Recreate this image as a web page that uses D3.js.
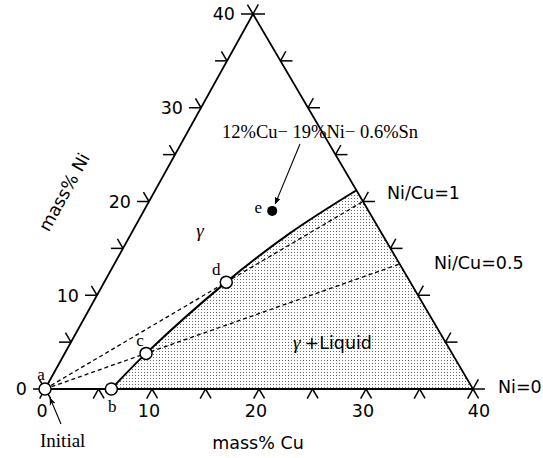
<!DOCTYPE html>
<html>
<head>
<meta charset="utf-8">
<script src="https://cdn.jsdelivr.net/npm/d3@7"></script>
<style>
  html, body { margin: 0; padding: 0; background: #fff; }
  svg { display: block; }
  .sans { font-family: "DejaVu Sans", sans-serif; }
  .serif { font-family: "Liberation Serif", "Times New Roman", serif; }
</style>
</head>
<body>
<svg id="chart" width="543" height="458"></svg>
<script>
// Axis ticks (mass %) along each edge of the Cu–Ni section
const edgeTicks = [0, 5, 10, 15, 20, 25, 30, 35, 40];
const tickLabels = [0, 10, 20, 30, 40];

// Solidus boundary between γ and γ+Liquid (mass% Cu, mass% Ni)
const boundaryCu = [6.2, 7.6, 11.4, 14.8, 18.8];
const boundaryNi = [0.0, 3.8, 11.4, 16.6, 21.2];

// Constant Ni/Cu ratio lines from the initial composition
const ratioValues = [1, 0.5];
const ratioLabels = ["Ni/Cu=1", "Ni/Cu=0.5"];

// Marked compositions
const pointNames = ["a", "b", "c", "d"];
const pointCu = [0, 6.2, 7.6, 11.4];
const pointNi = [0, 0, 3.8, 11.4];

// Alloy composition e
const alloyName = "e";
const alloyCu = 12;
const alloyNi = 19;
const alloyText = "12%Cu\u2212 19%Ni\u2212 0.6%Sn";

const svg = d3.select("#chart");

// Section frame: Cu along the base, Ni up the left edge
const xCu = d3.scaleLinear().domain([0, 40]).range([45, 473]);
const yNi = d3.scaleLinear().domain([0, 40]).range([389, 14]);
const skewNi = d3.scaleLinear().domain([0, 40]).range([0, 253 - 45]);

const px = (cu, ni) => xCu(cu) + skewNi(ni);
const py = (cu, ni) => yNi(ni);
const P = (cu, ni) => [px(cu, ni), py(cu, ni)];

// Unit directions of the two slanted edges, in screen space
const o = P(0, 0), apex = P(0, 40), right = P(40, 0);
function unit(a, b) {
  const dx = b[0] - a[0], dy = b[1] - a[1], l = Math.hypot(dx, dy);
  return [dx / l, dy / l];
}
const leftDir = unit(o, apex);     // constant Cu direction
const rightDir = unit(right, apex); // constant (Cu+Ni) direction

// Dotted fill for the two-phase region
const defs = svg.append("defs");
const pat = defs.append("pattern")
  .attr("id", "stipple")
  .attr("patternUnits", "userSpaceOnUse")
  .attr("width", 3).attr("height", 3);
pat.append("rect").attr("x", 0).attr("y", 0).attr("width", 1).attr("height", 1)
  .attr("fill", "#6a6a6a");

defs.append("marker")
  .attr("id", "arrowFill")
  .attr("viewBox", "0 0 10 10")
  .attr("refX", 9).attr("refY", 5)
  .attr("markerWidth", 7).attr("markerHeight", 7)
  .attr("markerUnits", "userSpaceOnUse")
  .attr("orient", "auto")
  .append("path").attr("d", "M0,1 L10,5 L0,9 Z").attr("fill", "#000");

defs.append("marker")
  .attr("id", "arrowThin")
  .attr("viewBox", "0 0 10 10")
  .attr("refX", 9).attr("refY", 5)
  .attr("markerWidth", 8).attr("markerHeight", 8)
  .attr("markerUnits", "userSpaceOnUse")
  .attr("orient", "auto")
  .append("path").attr("d", "M0,1 L10,5 L0,9 L3,5 Z").attr("fill", "#000");

// Shaded γ+Liquid region
const bPts = boundaryCu.map((c, i) => P(c, boundaryNi[i]));
const areaLine = d3.line().curve(d3.curveCatmullRom.alpha(0.5));
const boundaryPath = areaLine(bPts);
const regionPath = boundaryPath
  + "L" + P(40, 0).join(",")
  + "L" + P(boundaryCu[0], 0).join(",") + "Z";
svg.append("path").attr("d", regionPath).attr("fill", "url(#stipple)").attr("stroke", "none");

// Ratio lines (dashed)
ratioValues.forEach((r) => {
  const cuEnd = 40 / (1 + r), niEnd = r * cuEnd;
  svg.append("line")
    .attr("x1", px(0, 0)).attr("y1", py(0, 0))
    .attr("x2", px(cuEnd, niEnd)).attr("y2", py(cuEnd, niEnd))
    .attr("stroke", "#000").attr("stroke-width", 1.3)
    .attr("stroke-dasharray", "4,3");
});

// Triangle frame
svg.append("path")
  .attr("d", d3.line()([o, apex, right, o]) + "Z")
  .attr("fill", "none").attr("stroke", "#000").attr("stroke-width", 1.8)
  .attr("stroke-linejoin", "miter");

// Solidus boundary
svg.append("path").attr("d", boundaryPath)
  .attr("fill", "none").attr("stroke", "#000").attr("stroke-width", 2);

// Edge ticks
const tickG = svg.append("g").attr("stroke", "#000").attr("stroke-width", 1.5);
const LH = 12, LD = 11;
edgeTicks.forEach((v) => {
  // left edge (Ni axis)
  let p = P(0, v);
  tickG.append("line").attr("x1", p[0]).attr("y1", p[1]).attr("x2", p[0] - LH).attr("y2", p[1]);
  tickG.append("line").attr("x1", p[0]).attr("y1", p[1])
    .attr("x2", p[0] + LD * rightDir[0]).attr("y2", p[1] + LD * rightDir[1]);
  // base (Cu axis)
  p = P(v, 0);
  tickG.append("line").attr("x1", p[0]).attr("y1", p[1])
    .attr("x2", p[0] - LD * leftDir[0]).attr("y2", p[1] - LD * leftDir[1]);
  tickG.append("line").attr("x1", p[0]).attr("y1", p[1])
    .attr("x2", p[0] - LD * rightDir[0]).attr("y2", p[1] - LD * rightDir[1]);
  // right edge
  p = P(40 - v, v);
  tickG.append("line").attr("x1", p[0]).attr("y1", p[1]).attr("x2", p[0] + LH).attr("y2", p[1]);
  tickG.append("line").attr("x1", p[0]).attr("y1", p[1])
    .attr("x2", p[0] + LD * leftDir[0]).attr("y2", p[1] + LD * leftDir[1]);
});

// Tick labels
const labelG = svg.append("g").attr("class", "sans").attr("font-size", 17.5).attr("fill", "#000");
tickLabels.forEach((v) => {
  const pl = P(0, v);
  labelG.append("text").attr("x", pl[0] - 18).attr("y", pl[1]).attr("dy", "0.36em")
    .attr("text-anchor", "end").text(v);
  const pb = P(v, 0);
  labelG.append("text").attr("x", pb[0] + (v === 40 ? 6 : -3)).attr("y", pb[1] + 22).attr("dy", "0.36em")
    .attr("text-anchor", "middle").text(v);
});

// Axis titles
const leftAngle = Math.atan2(leftDir[1], leftDir[0]) * 180 / Math.PI;
svg.append("text").attr("class", "sans").attr("font-size", 17.5)
  .attr("transform", `translate(64,192) rotate(${leftAngle})`)
  .attr("text-anchor", "middle").attr("dy", "0.36em").text("mass% Ni");
svg.append("text").attr("class", "sans").attr("font-size", 17.5)
  .attr("x", xCu(20) - 1).attr("y", 443).attr("dy", "0.36em")
  .attr("text-anchor", "middle").text("mass% Cu");

// Ratio line labels and Ni=0
const ratioLabelPos = [[387, 193], [434, 263]];
ratioLabels.forEach((t, i) => {
  svg.append("text").attr("class", "sans").attr("font-size", 17.5)
    .attr("x", ratioLabelPos[i][0]).attr("y", ratioLabelPos[i][1]).attr("dy", "0.36em").text(t);
});
svg.append("text").attr("class", "sans").attr("font-size", 17.5)
  .attr("x", 498).attr("y", py(0, 0) - 2).attr("dy", "0.36em").text("Ni=0");

// Phase labels
svg.append("text").attr("class", "serif").attr("font-size", 19).attr("font-style", "italic")
  .attr("x", 200).attr("y", 231).attr("dy", "0.3em").attr("text-anchor", "middle").text("\u03b3");
const gl = svg.append("text").attr("x", 293).attr("y", 343).attr("dy", "0.36em");
gl.append("tspan").attr("class", "serif").attr("font-style", "italic").attr("font-size", 19).text("\u03b3");
gl.append("tspan").attr("class", "sans").attr("font-size", 17.5).attr("dx", 4).text("+Liquid");

// Marked compositions (open circles)
pointNames.forEach((n, i) => {
  svg.append("circle").attr("cx", px(pointCu[i], pointNi[i])).attr("cy", py(pointCu[i], pointNi[i]))
    .attr("r", 6).attr("fill", "#fff").attr("stroke", "#000").attr("stroke-width", 1.5);
});
const pointLabelOffset = [[-4, -14], [1, 18], [-6, -12], [-10, -12]];
pointNames.forEach((n, i) => {
  svg.append("text").attr("class", "serif").attr("font-size", 17)
    .attr("x", px(pointCu[i], pointNi[i]) + pointLabelOffset[i][0])
    .attr("y", py(pointCu[i], pointNi[i]) + pointLabelOffset[i][1])
    .attr("dy", "0.3em").attr("text-anchor", "middle").text(n);
});

// Alloy e
const ex = px(alloyCu, alloyNi), ey = py(alloyCu, alloyNi);
svg.append("circle").attr("cx", ex).attr("cy", ey).attr("r", 5).attr("fill", "#000");
svg.append("text").attr("class", "serif").attr("font-size", 17)
  .attr("x", ex - 14).attr("y", ey - 3).attr("dy", "0.3em").attr("text-anchor", "middle").text(alloyName);
svg.append("text").attr("class", "serif").attr("font-size", 18.5)
  .attr("x", 222).attr("y", 132).attr("dy", "0.35em").text(alloyText);
svg.append("line").attr("x1", 300).attr("y1", 144).attr("x2", ex + 3).attr("y2", ey - 7)
  .attr("stroke", "#000").attr("stroke-width", 1.1).attr("marker-end", "url(#arrowFill)");

// Initial composition pointer
svg.append("line").attr("x1", 61).attr("y1", 424).attr("x2", o[0] + 5).attr("y2", o[1] + 9)
  .attr("stroke", "#000").attr("stroke-width", 1.1).attr("marker-end", "url(#arrowThin)");
svg.append("text").attr("class", "serif").attr("font-size", 19)
  .attr("x", 40).attr("y", 440).attr("dy", "0.35em").text("Initial");
</script>
</body>
</html>
